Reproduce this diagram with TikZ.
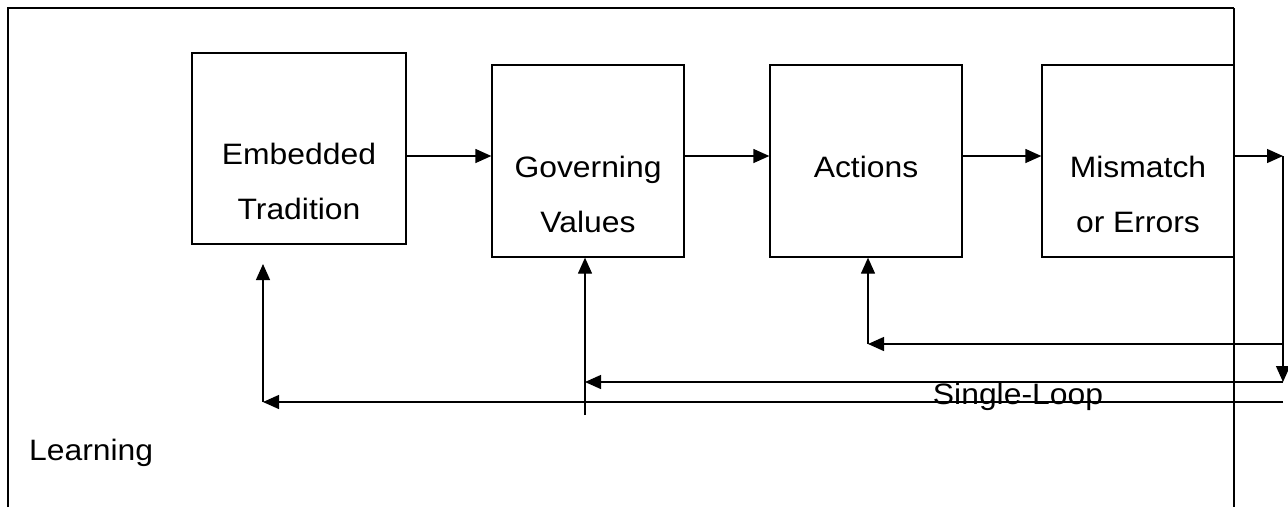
\documentclass[tikz,border=0pt]{standalone}
\usepackage{fontspec}
\usepackage{graphicx}
\setmainfont{Liberation Sans}
\usetikzlibrary{arrows.meta}
\newcommand{\sxtxt}[1]{\scalebox{1.08}[1]{#1}}
\begin{document}
\begin{tikzpicture}[x=1pt,y=-1pt,
  box/.style={draw,line width=1.3pt,inner sep=0pt},
  lbl/.style={anchor=base,inner sep=0pt,font=\fontsize{29.5}{34}\selectfont},
  conn/.style={line width=1.3pt},
  arr/.style={line width=1.3pt,-{Triangle[length=16pt,width=14pt]}},
  frame/.style={line width=1.8pt}]
\useasboundingbox (0,0) rectangle (1288,507);
% frame
\coordinate (f1) at (8,507);
\coordinate (f2) at (8,8);
\coordinate (f3) at (1234,8);
\coordinate (f4) at (1234,507);
\draw[frame] (f1) -- (f2) -- (f3);
\draw[conn] (f3) -- (f4);
% boxes
\node[box,minimum width=214pt,minimum height=191pt] (et) at (299,148.5) {};
\node[box,minimum width=192pt,minimum height=192pt] (gv) at (588,161) {};
\node[box,minimum width=192pt,minimum height=192pt] (ac) at (866,161) {};
\node[box,minimum width=192pt,minimum height=192pt] (mm) at (1138,161) {};
% labels
\node[lbl] (et1) at (299,164) {\sxtxt{Embedded}};
\node[lbl] (et2) at (299,219) {\sxtxt{Tradition}};
\node[lbl] (gv1) at (588,177) {\sxtxt{Governing}};
\node[lbl] (gv2) at (588,232) {\sxtxt{Values}};
\node[lbl] (ac1) at (866,177) {\sxtxt{Actions}};
\node[lbl] (mm1) at (1138,177) {\sxtxt{Mismatch}};
\node[lbl] (mm2) at (1138,232) {\sxtxt{or Errors}};
\node[lbl,anchor=base west] (learn) at (29,460) {\sxtxt{Learning}};
\node[lbl] (sl) at (1018,404) {\sxtxt{Single-Loop}};
% forward arrows
\coordinate (y1) at (0,156);
\draw[arr] (et.east |- y1) -- (gv.west |- y1);
\draw[arr] (gv.east |- y1) -- (ac.west |- y1);
\draw[arr] (ac.east |- y1) -- (mm.west |- y1);
\coordinate (r0) at (1283,156);
\draw[arr] (mm.east |- y1) -- (r0);
\coordinate (r2) at (1283,382);
\draw[arr] (r0) -- (r2);
% feedback loops
\coordinate (r1) at (1283,344);
\coordinate (c1) at (868,344);
\draw[arr] (r1) -- (c1);
\draw[arr] (c1) -- (c1 |- ac.south);
\coordinate (c2) at (585,382);
\draw[arr] (r2) -- (c2);
\coordinate (c2b) at (585,415);
\draw[arr] (c2b) -- (c2b |- gv.south);
\coordinate (r3) at (1283,402);
\coordinate (c3) at (263,402);
\coordinate (c3t) at (263,264);
\draw[arr] (r3) -- (c3);
\draw[arr] (c3) -- (c3t);
\end{tikzpicture}
\end{document}
